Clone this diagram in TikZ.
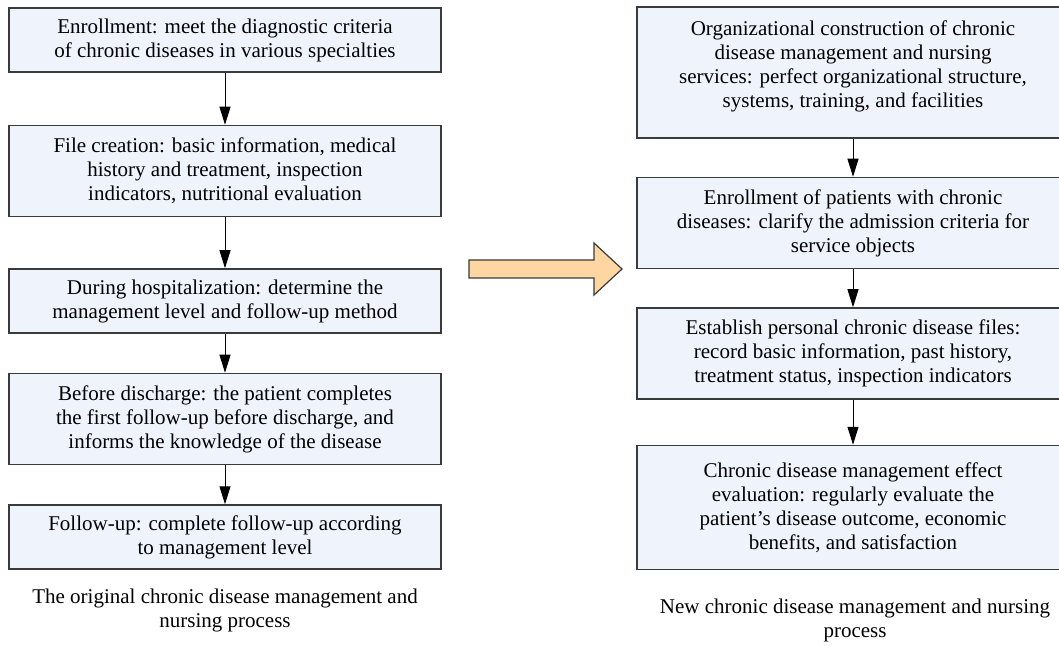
\documentclass[tikz,border=0pt]{standalone}
\usepackage{fontspec}
\setmainfont{Liberation Serif}
\usetikzlibrary{arrows.meta,positioning,backgrounds}
\definecolor{boxfill}{HTML}{EFF3FB}
\definecolor{boxline}{HTML}{3A3A3A}
\definecolor{bigarrow}{HTML}{FDD6A2}

\begin{document}
\begin{tikzpicture}[
			x=0.5pt, y=-0.5pt,
			font=\fontsize{10.5pt}{12pt}\selectfont,
			stage/.style={draw=boxline, line width=0.75pt, fill=boxfill, align=center, minimum width=216pt, inner sep=2pt},
			two/.style={stage, minimum height=32pt},
			three/.style={stage, minimum height=45.5pt},
			caption/.style={align=center},
			flow/.style={line width=0.5pt, -{Triangle[length=9pt,width=5.5pt]}}
		]
		\clip (0,0) rectangle (1059,646);
		% original process
		\node[two] (enrol) at (225,40) {Enrollment: meet the diagnostic criteria\\of chronic diseases in various specialties};
		\node[three, below=26pt of enrol] (file) {File creation: basic information, medical\\history and treatment, inspection\\indicators, nutritional evaluation};
		\node[two, below=25.5pt of file] (hosp) {During hospitalization: determine the\\management level and follow-up method};
		\node[three, below=19.5pt of hosp] (disch) {Before discharge: the patient completes\\the first follow-up before discharge, and\\informs the knowledge of the disease};
		\node[two, below=19.5pt of disch] (follow) {Follow-up: complete follow-up according\\to management level};
		\node[caption, below=6pt of follow] (capold) {The original chronic disease management and\\nursing process};

		% new process
		\node[stage, minimum height=65.5pt, text depth=8pt] (organ) at (853,72.5) {Organizational construction of chronic\\disease management and nursing\\services: perfect organizational structure,\\systems, training, and facilities};
		\node[three, below=19pt of organ] (admit) {Enrollment of patients with chronic\\diseases: clarify the admission criteria for\\service objects};
		\node[three, below=19pt of admit] (files) {Establish personal chronic disease files:\\record basic information, past history,\\treatment status, inspection indicators};
		\node[stage, minimum height=62pt, below=22.5pt of files] (effect) {Chronic disease management effect\\evaluation: regularly evaluate the\\patient's disease outcome, economic\\benefits, and satisfaction};
		\node[caption, below=11pt of effect, xshift=1pt] (capnew) {New chronic disease management and nursing\\process};

		\begin{pgfonlayer}{background}
			\draw[flow] (enrol) -- (file);
			\draw[flow] (file) -- (hosp);
			\draw[flow] (hosp) -- (disch);
			\draw[flow] (disch) -- (follow);
			\draw[flow] (organ) -- (admit);
			\draw[flow] (admit) -- (files);
			\draw[flow] (files) -- (effect);
		\end{pgfonlayer}

		% big arrow between the two processes
		\draw[draw=boxline, line width=0.6pt, fill=bigarrow] (469,260) -- (594,260) -- (594,243) -- (622,269) -- (594,295) -- (594,278) -- (469,278) -- cycle;
	\end{tikzpicture}
\end{document}
